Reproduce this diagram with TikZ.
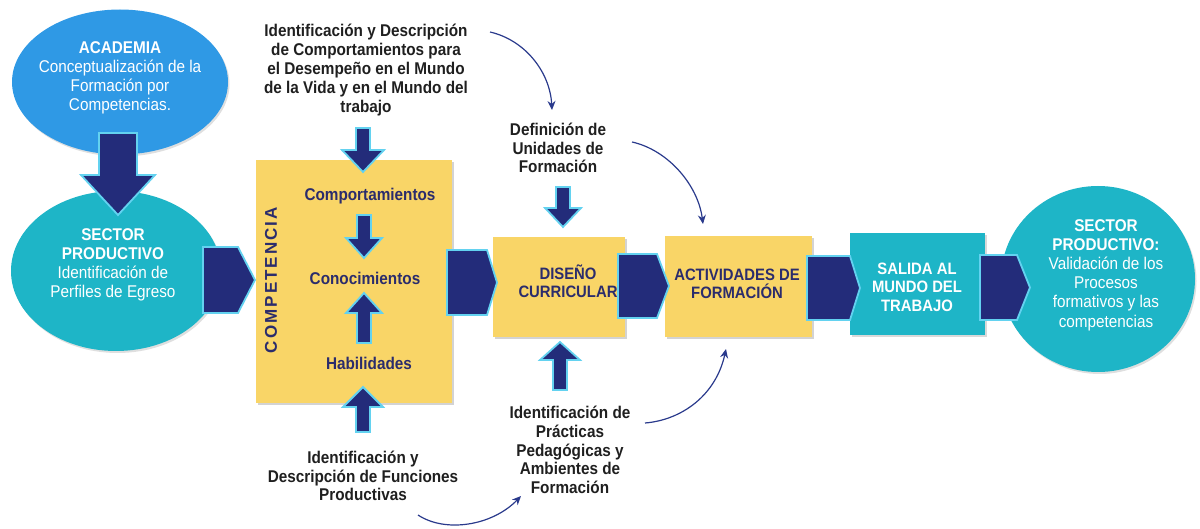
\documentclass[tikz,border=0pt]{standalone}
\usepackage{fontspec}
\setmainfont{Liberation Sans}[FakeStretch=0.9]
\newfontfamily\compfont{Liberation Sans}[LetterSpace=12]
\usetikzlibrary{arrows.meta,shapes.geometric,shadows}
\definecolor{navy}{HTML}{232C7A}
\definecolor{navytext}{HTML}{2B2C6C}
\definecolor{cyanline}{HTML}{63D2F0}
\definecolor{yel}{HTML}{F9D567}
\definecolor{tealc}{HTML}{1EB5C7}
\definecolor{acadblue}{HTML}{2F99E5}
\definecolor{curvecol}{HTML}{2A3A8C}
\newcommand{\vblock}[6]{\path[blockarrow] ({#1-#2},#4) -- ({#1+#2},#4) -- ({#1+#2},#5) -- ({#1+#3},#5) -- (#1,#6) -- ({#1-#3},#5) -- ({#1-#2},#5) -- cycle;}
\newcommand{\rblock}[5]{\path[blockarrow] (#1,#3) -- (#2,#3) -- (#5,{(#3+#4)/2}) -- (#2,#4) -- (#1,#4) -- cycle;}
\begin{document}
\begin{tikzpicture}[x=1pt,y=-1pt,
  ybox/.style={rectangle, fill=yel, draw=none, inner sep=0pt,
    drop shadow={shadow xshift=2pt,shadow yshift=-2pt,opacity=0.35,fill=gray}},
  tbox/.style={rectangle, fill=tealc, draw=none, inner sep=0pt,
    drop shadow={shadow xshift=2pt,shadow yshift=-2pt,opacity=0.3,fill=gray}},
  ell/.style={ellipse, draw=none, inner sep=0pt,
    drop shadow={shadow xshift=1.5pt,shadow yshift=-2pt,opacity=0.25,fill=gray}},
  blockarrow/.style={fill=navy, draw=cyanline, line width=1.8pt, line join=miter},
  curvearrow/.style={draw=curvecol, line width=1.2pt, -{Stealth[length=9pt,width=8pt]}},
  desc/.style={align=center, font=\fontsize{17}{18.8}\selectfont\bfseries, text=black!88, inner sep=0pt},
  boxtext/.style={align=center, font=\fontsize{16.5}{18}\selectfont\bfseries, text=navytext, inner sep=0pt},
  inbox/.style={align=center, font=\fontsize{17}{18}\selectfont\bfseries, text=navytext, inner sep=0pt},
  elltext/.style={align=center, text=white, font=\fontsize{17}{19.2}\selectfont, inner sep=0pt}
]
\useasboundingbox (0,0) rectangle (1200,529);

% ellipses
\node[ell, fill=acadblue, minimum width=216, minimum height=145] (acad) at (120,82) {};
\node[ell, fill=tealc, minimum width=210, minimum height=160] (sect1) at (116,271) {};
\node[ell, fill=tealc, minimum width=194, minimum height=186] (sect2) at (1098,279) {};

\node[elltext] (acadtxt) at (120,78) {{\bfseries ACADEMIA}\\Conceptualización de la\\Formación por\\Competencias.};
\node[elltext] (sect1txt) at (113,265) {{\bfseries SECTOR}\\{\bfseries PRODUCTIVO}\\Identificación de\\Perfiles de Egreso};
\node[elltext] (sect2txt) at (1106,275) {{\bfseries SECTOR}\\{\bfseries PRODUCTIVO:}\\Validación de los\\Procesos\\formativos y las\\competencias};

% boxes
\node[ybox, minimum width=196, minimum height=243] (compbox) at (354,281.5) {};
\node[ybox, minimum width=132, minimum height=100] (dis) at (559,287) {};
\node[ybox, minimum width=147, minimum height=101] (act) at (738.5,286.5) {};
\node[tbox, minimum width=135, minimum height=102] (sal) at (917.5,284) {};

\node[boxtext] (distxt) at (568,281) {DISEÑO\\CURRICULAR};
\node[boxtext] (acttxt) at (737,284) {ACTIVIDADES DE\\FORMACIÓN};
\node[boxtext, text=white, font=\fontsize{16.5}{18.5}\selectfont\bfseries] (saltxt) at (917,287) {SALIDA AL\\MUNDO DEL\\TRABAJO};

\node[rotate=90, inner sep=0pt, text=navytext, font=\compfont\fontsize{17}{17}\selectfont\bfseries] (competencia) at (271,280) {COMPETENCIA};
\node[inbox] (comport) at (370,196) {Comportamientos};
\node[inbox] (conoc) at (365,278) {Conocimientos};
\node[inbox] (habil) at (369,363) {Habilidades};

% description texts
\node[desc] (toptxt) at (366,70) {Identificación y Descripción\\de Comportamientos para\\el Desempeño en el Mundo\\de la Vida y en el Mundo del\\trabajo};
\node[desc] (deftxt) at (558,148) {Definición de\\Unidades de\\Formación};
\node[desc] (practxt) at (570,450) {Identificación de\\Prácticas\\Pedagógicas y\\Ambientes de\\Formación};
\node[desc] (functxt) at (363,476) {Identificación y\\Descripción de Funciones\\Productivas};

% block arrows
\vblock{118}{19}{37}{133}{175}{215}
\rblock{203}{238}{247}{313}{255}
\rblock{447}{487}{250}{315}{497}
\rblock{618}{657}{254}{318}{669}
\rblock{807}{850}{256}{320}{860}
\rblock{980}{1017}{255}{320}{1030}

\vblock{363}{7}{21}{128}{150}{172}
\vblock{364}{7}{18}{215}{238}{258}
\vblock{364}{7}{18}{343}{313}{293}
\vblock{363}{7}{20}{432}{407}{387}
\vblock{563}{7}{18}{187}{208}{227}
\vblock{560}{7}{20}{390}{360}{342}

% curved connectors
\coordinate (c1s) at (490,32);
\coordinate (c1e) at (552,110);
\coordinate (c2s) at (632,142);
\coordinate (c2e) at (703,224);
\coordinate (c3s) at (418,515);
\coordinate (c3e) at (521,496);
\coordinate (c4s) at (645,423);
\coordinate (c4e) at (726,349);
\draw[curvearrow] (c1s) .. controls (525,40) and (550,72) .. (c1e);
\draw[curvearrow] (c2s) .. controls (668,150) and (698,185) .. (c2e);
\draw[curvearrow] (c3s) .. controls (445,533) and (492,526) .. (c3e);
\draw[curvearrow] (c4s) .. controls (682,420) and (716,395) .. (c4e);
\end{tikzpicture}
\end{document}
